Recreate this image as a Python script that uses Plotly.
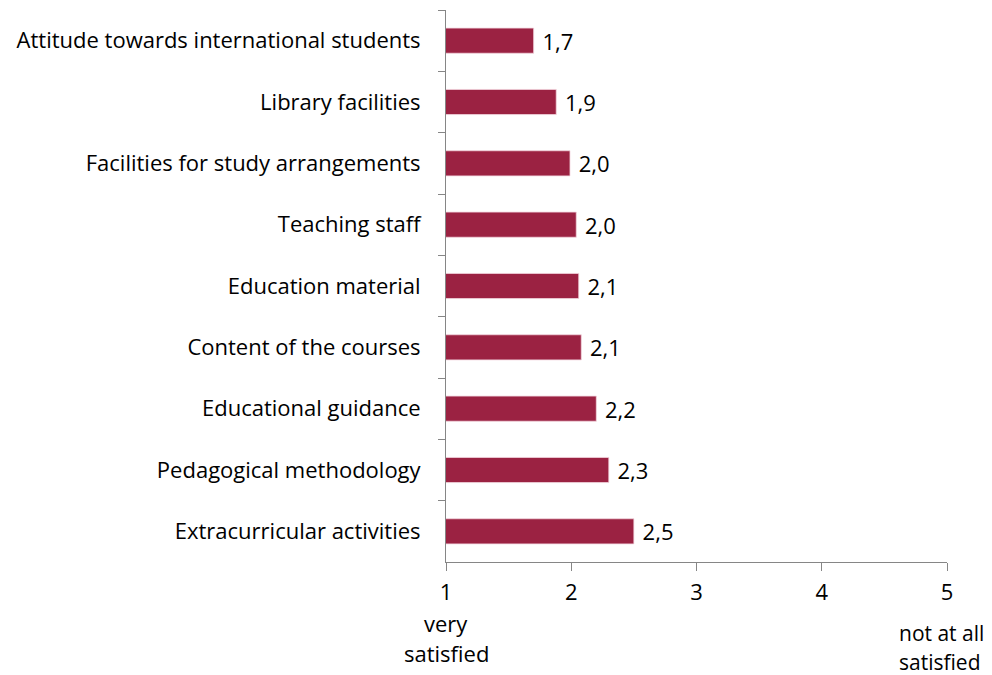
import plotly.graph_objects as go

categories = [
    "Attitude towards international students",
    "Library facilities",
    "Facilities for study arrangements",
    "Teaching staff",
    "Education material",
    "Content of the courses",
    "Educational guidance",
    "Pedagogical methodology",
    "Extracurricular activities",
]
values = [1.70, 1.88, 1.99, 2.04, 2.06, 2.08, 2.2, 2.3, 2.5]
x_ticks = [1, 2, 3, 4, 5]
low_label = ["very", "satisfied"]
high_label = ["not at all", "satisfied"]

FONT = "Open Sans"
FS = 22
AXIS = "#868686"

fig = go.Figure(
    go.Bar(
        y=categories,
        x=values,
        orientation="h",
        marker=dict(color="#9B2242", line=dict(color="#f2d6de", width=0.8)),
        texttemplate=" %{x:.1f}",
        textposition="outside",
        constraintext="none",
        textfont=dict(family=FONT, size=FS, color="black"),
        cliponaxis=False,
    )
)

W, H = 984, 667
fig.update_layout(
    width=W,
    height=H,
    margin=dict(l=438, r=45, t=2, b=113),
    paper_bgcolor="white",
    plot_bgcolor="white",
    bargap=0.59,
    showlegend=False,
    separators=",.",
    font=dict(family=FONT, size=FS, color="black"),
)
fig.update_xaxes(
    range=[1, 5],
    tickvals=x_ticks,
    ticks="outside",
    ticklen=8,
    tickcolor=AXIS,
    showline=True,
    linecolor=AXIS,
    linewidth=1,
    showgrid=False,
    zeroline=False,
    tickfont=dict(family=FONT, size=FS),
    ticklabelstandoff=3,
)
fig.update_yaxes(
    autorange="reversed",
    tickson="boundaries",
    ticks="outside",
    ticklen=7,
    tickcolor=AXIS,
    showline=True,
    linecolor=AXIS,
    linewidth=1,
    showgrid=False,
    tickfont=dict(family=FONT, size=FS),
    ticklabelstandoff=20,
)
for i, line in enumerate(low_label):
    fig.add_annotation(x=1, y=0, xref="x", yref="paper", yshift=-(61 + 30 * i),
                       yanchor="middle", xanchor="center",
                       text=line, showarrow=False,
                       font=dict(family=FONT, size=FS))
for i, line in enumerate(high_label):
    fig.add_annotation(x=4.6, y=0, xref="x", yref="paper", yshift=-(71 + 29 * i),
                       yanchor="middle", xanchor="left",
                       text=line, showarrow=False,
                       font=dict(family=FONT, size=21))

fig.write_html("out.html")
